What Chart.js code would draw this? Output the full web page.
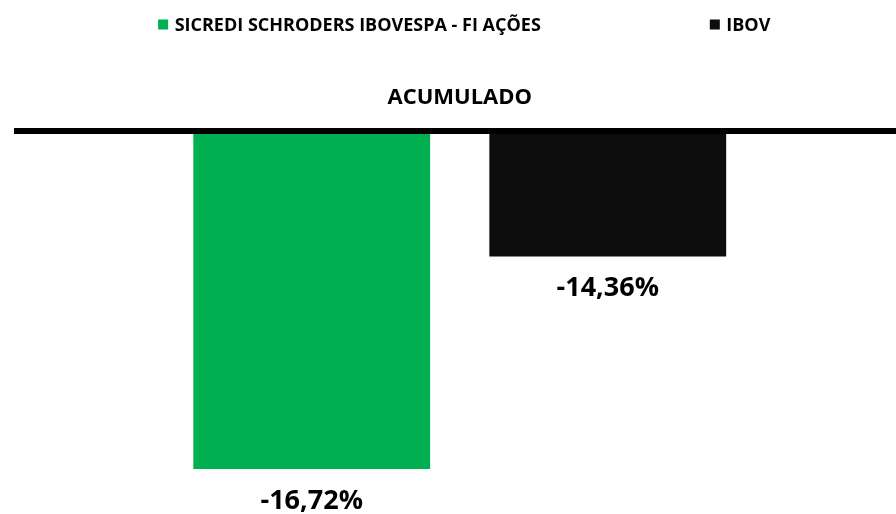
<!DOCTYPE html>
<html>
<head>
<meta charset="utf-8">
<script src="https://cdn.jsdelivr.net/npm/chart.js@4.4.1/dist/chart.umd.min.js"></script>
<style>
  body { margin: 0; background: #fff; }
  #wrap { width: 896px; height: 514px; }
</style>
</head>
<body>
<div id="wrap"><canvas id="acumuladoChart"></canvas></div>
<script>
const categories = ['SICREDI SCHRODERS IBOVESPA - FI AÇÕES', 'IBOV'];
const acumulado = [-16.72, -14.36];
const barColors = ['#00B050', '#0D0D0D'];
const yMin = -17.22;
const yMax = -13;

const fmtPct = v => v.toFixed(2).replace('.', ',') + '%';

// legenda em linha, com espaço largo entre os itens
const legendRow = {
    id: 'legendRow',
    afterDraw(chart) {
        const ctx = chart.ctx;
        const area = chart.chartArea;
        const box = 10, gap = 6.5, spacing = 169;
        ctx.save();
        ctx.font = 'bold 18px "Open Sans"';
        ctx.textBaseline = 'alphabetic';
        const widths = categories.map(c => box + gap + ctx.measureText(c).width);
        const total = widths.reduce((a, b) => a + b, 0) + spacing * (categories.length - 1);
        let x = (area.left + area.right) / 2 + 4.5 - total / 2;
        categories.forEach((c, i) => {
            ctx.fillStyle = barColors[i];
            ctx.fillRect(x, 19.5, box, box);
            ctx.fillStyle = '#000';
            ctx.fillText(c, x + box + gap, 30.5);
            x += widths[i] + spacing;
        });
        ctx.restore();
    }
};

// linha grossa do eixo + rótulos abaixo das barras
const axisAndLabels = {
    id: 'axisAndLabels',
    afterDatasetsDraw(chart) {
        const ctx = chart.ctx;
        const area = chart.chartArea;
        ctx.save();
        ctx.fillStyle = '#000';
        ctx.fillRect(14, area.top - 6, chart.width - 14, 6);
        ctx.font = 'bold 27px "Open Sans"';
        ctx.textAlign = 'center';
        ctx.textBaseline = 'alphabetic';
        chart.getDatasetMeta(0).data.forEach((bar, i) => {
            ctx.fillText(fmtPct(acumulado[i]), bar.x, bar.y + 40);
        });
        ctx.restore();
    }
};

const ctx = document.getElementById('acumuladoChart').getContext('2d');

new Chart(ctx, {
    type: 'bar',
    data: {
        labels: categories,
        datasets: [{
            label: 'Acumulado',
            data: acumulado,
            backgroundColor: barColors,
            base: yMax,
            barPercentage: 0.8,
            categoryPercentage: 1,
        }]
    },
    options: {
        responsive: true,
        maintainAspectRatio: false,
        animation: false,
        layout: {
            padding: { top: 60, left: 163.7, right: 140.2, bottom: 0 }
        },
        plugins: {
            legend: { display: false },
            tooltip: { enabled: false },
            title: {
                display: true,
                text: 'ACUMULADO',
                color: '#000',
                font: { family: 'Open Sans', size: 22, weight: 'bold' },
                padding: { top: 24.3, bottom: 23.3 }
            }
        },
        scales: {
            x: { display: false },
            y: { display: false, min: yMin, max: yMax }
        }
    },
    plugins: [legendRow, axisAndLabels]
});
</script>
</body>
</html>
